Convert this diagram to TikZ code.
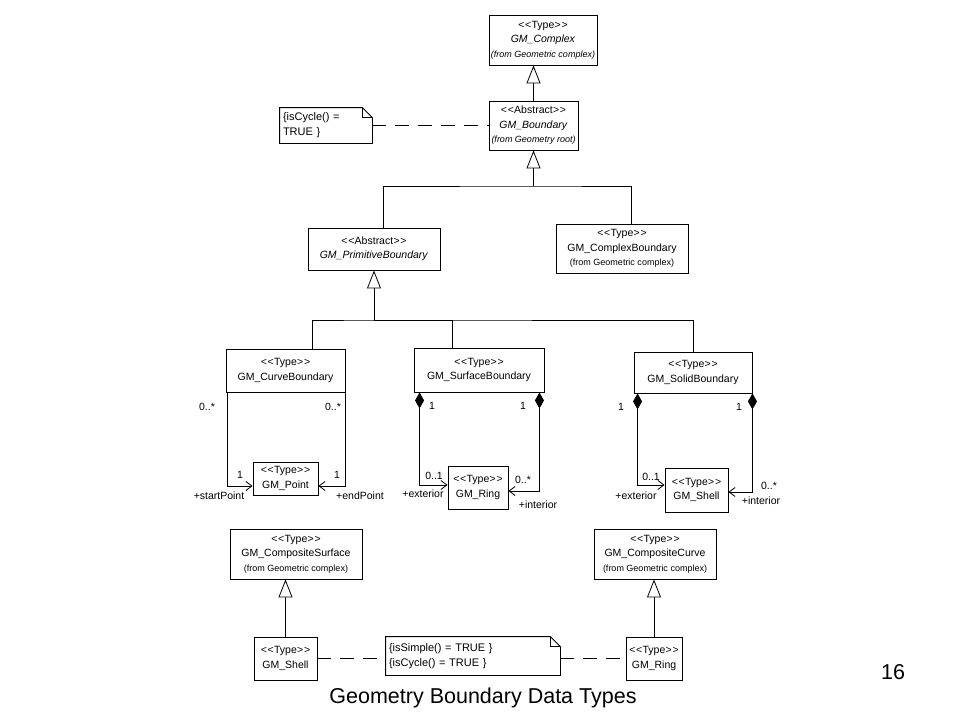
\documentclass[tikz,border=0pt]{standalone}
\usepackage{fontspec}
\setmainfont{Liberation Sans}
\usetikzlibrary{arrows.meta,calc}
\newcommand{\stereo}[1]{\textless\kern0.8pt\textless\kern0.3pt #1\kern0.3pt\textgreater\kern0.8pt\textgreater}
\newcommand{\frmfont}{\fontsize{9}{10}\selectfont}
\begin{document}
\begin{tikzpicture}[x=1pt,y=-1pt,
  every path/.style={line width=0.8pt},
  cls/.style={draw, line width=0.9pt, align=center, inner sep=0pt, font=\fontsize{10.5}{14.5}\selectfont},
  notebox/.style={align=left, inner sep=3pt, anchor=center, font=\fontsize{11}{15}\selectfont},
  lbl/.style={inner sep=0pt, font=\fontsize{10.5}{12}\selectfont},
  gen/.style={draw, -{Triangle[open, length=18pt, width=14pt, fill=white]}},
  assoc/.style={draw, -{Straight Barb[length=6pt, width=9pt]}},
  comp/.style={draw, {Diamond[length=16pt, width=9pt]}-{Straight Barb[length=6pt, width=9pt]}},
  dsh/.style={draw, dash pattern=on 14pt off 9pt},
  captext/.style={inner sep=0pt, font=\fontsize{21.5}{24}\selectfont}
]
\fill[white] (0,0) rectangle (960,720);
\useasboundingbox (0,0) rectangle (960,720);

% top
\node[cls, minimum width=108pt, minimum height=50pt] (cx) at (543,40)
  {\stereo{Type}\\ \textit{GM\_Complex}\\ {\frmfont\itshape (from Geometric complex)}};
\node[cls, minimum width=89pt, minimum height=49pt] (bd) at (533.5,125.5)
  {\stereo{Abstract}\\ \textit{GM\_Boundary}\\ {\frmfont\itshape (from Geometry root)}};
\node[notebox, minimum width=92pt, minimum height=35pt, text width=86pt] (n1) at (326,125.5)
  {\{isCycle() =\\TRUE \}};
\draw (n1.north west) -- ([xshift=-10pt]n1.north east) -- ([yshift=-10pt]n1.north east) -- (n1.south east) -- (n1.south west) -- cycle;
\draw ([xshift=-10pt]n1.north east) |- ([yshift=-10pt]n1.north east);
\draw[dsh] (n1.east) -- (bd.west);
\draw[gen] (bd.north) -- (bd.north |- cx.south);

% second level
\node[cls, minimum width=132pt, minimum height=42pt] (pb) at (374,249)
  {\stereo{Abstract}\\ \textit{GM\_PrimitiveBoundary}};
\node[cls, minimum width=132pt, minimum height=49pt] (cb2) at (622,248.5)
  {\stereo{Type}\\ GM\_ComplexBoundary\\ {\frmfont (from Geometric complex)}};
\coordinate (j1) at (533.5,186);
\draw[gen] (j1) -- (bd.south);
\draw ([xshift=9pt]pb.north) |- (j1) -| ([xshift=9pt]cb2.north);

% third level
\node[cls, minimum width=119pt, minimum height=43pt] (crv) at (285.5,370.5)
  {\stereo{Type}\\ GM\_CurveBoundary};
\node[cls, minimum width=130pt, minimum height=44pt] (srf) at (479,370)
  {\stereo{Type}\\ GM\_SurfaceBoundary};
\node[cls, minimum width=118pt, minimum height=41pt] (sol) at (693,372.5)
  {\stereo{Type}\\ GM\_SolidBoundary};
\coordinate (j2) at (374,320);
\draw[gen] (j2) -- (pb.south);
\draw ([xshift=26.5pt]crv.north) |- (j2) -| (sol.north);
\draw ([xshift=-27pt]srf.north) |- (j2);

% parts
\node[cls, minimum width=65pt, minimum height=33pt] (pt) at (285.5,478.5)
  {\stereo{Type}\\ GM\_Point};
\node[cls, minimum width=60pt, minimum height=43pt] (ring) at (478,487.5)
  {\stereo{Type}\\ GM\_Ring};
\node[cls, minimum width=63pt, minimum height=44pt] (shell) at (696.5,490)
  {\stereo{Type}\\ GM\_Shell};

\draw[assoc] ([xshift=2pt]crv.south west) |- ([yshift=-7.5pt]pt.west);
\draw[assoc] (crv.south east) |- ([yshift=-7.5pt]pt.east);
\draw[comp] ([xshift=6pt]srf.south west) |- ([yshift=2.5pt]ring.west);
\draw[comp] ([xshift=-5pt]srf.south east) |- ([yshift=-3.5pt]ring.east);
\draw[comp] ([xshift=4pt]sol.south west) |- ([yshift=5pt]shell.west);
\draw[comp] (sol.south east) |- ([yshift=-2pt]shell.east);

% multiplicities and roles
\node[lbl] (m1) at (207,407) {0..*};
\node[lbl] (m2) at (333,407) {0..*};
\node[lbl] (m3) at (240,475) {1};
\node[lbl] (m4) at (337,475) {1};
\node[lbl] (r1) at (219,496) {+startPoint};
\node[lbl] (r2) at (360,496) {+endPoint};
\node[lbl] (m5) at (432,406) {1};
\node[lbl] (m6) at (523,406) {1};
\node[lbl] (m7) at (434,476) {0..1};
\node[lbl] (m8) at (523,480) {0..*};
\node[lbl] (r3) at (423,494) {+exterior};
\node[lbl] (r4) at (538,505) {+interior};
\node[lbl] (m9) at (621,407) {1};
\node[lbl] (m10) at (739,407) {1};
\node[lbl] (m11) at (651,477) {0..1};
\node[lbl] (m12) at (769,486) {0..*};
\node[lbl] (r5) at (636,496) {+exterior};
\node[lbl] (r6) at (761,501) {+interior};

% bottom
\node[cls, minimum width=132pt, minimum height=50pt] (cs) at (296,554)
  {\stereo{Type}\\ GM\_CompositeSurface\\ {\frmfont (from Geometric complex)}};
\node[cls, minimum width=122pt, minimum height=50pt] (cc) at (655,554)
  {\stereo{Type}\\ GM\_CompositeCurve\\ {\frmfont (from Geometric complex)}};
\node[cls, minimum width=63pt, minimum height=43pt] (shb) at (285.5,658.5)
  {\stereo{Type}\\ GM\_Shell};
\node[cls, minimum width=56pt, minimum height=43pt] (ringb) at (654,658.5)
  {\stereo{Type}\\ GM\_Ring};
\node[notebox, minimum width=174pt, minimum height=38pt, text width=168pt] (n2) at (473,656)
  {\{isSimple() = TRUE \}\\ \{isCycle() = TRUE \}};
\draw (n2.north west) -- ([xshift=-10pt]n2.north east) -- ([yshift=-10pt]n2.north east) -- (n2.south east) -- (n2.south west) -- cycle;
\draw ([xshift=-10pt]n2.north east) |- ([yshift=-10pt]n2.north east);
\draw[gen] (shb.north) -- (shb.north |- cs.south);
\draw[gen] (ringb.north) -- (ringb.north |- cc.south);
\draw[dsh] (shb.east) -- (shb.east -| n2.west);
\draw[dsh] (n2.east |- ringb.west) -- (ringb.west);

\node[captext] (title) at (483,698) {Geometry Boundary Data Types};
\node[captext] (pg) at (893,672) {16};
\end{tikzpicture}
\end{document}
